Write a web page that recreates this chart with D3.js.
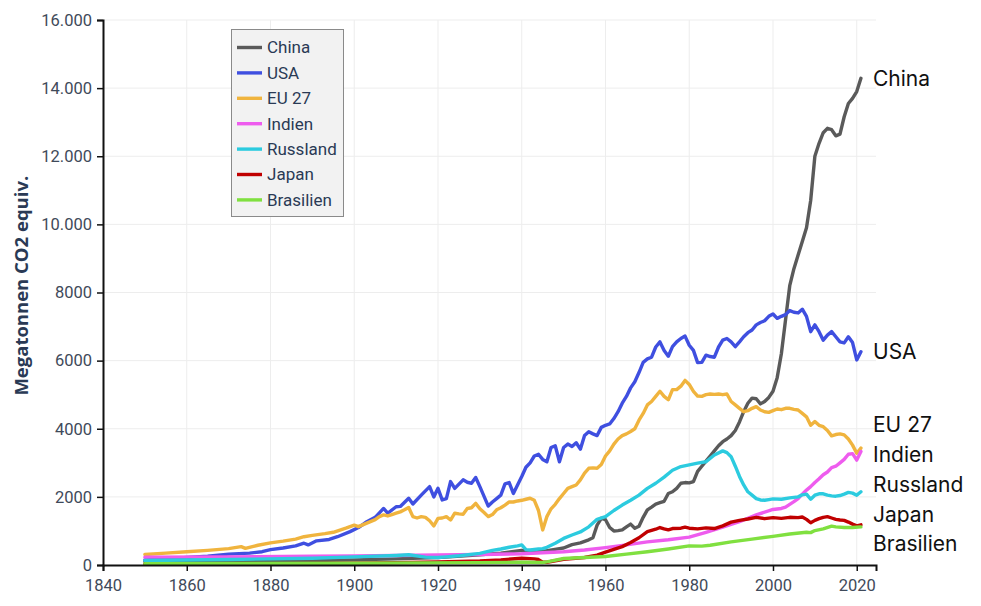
<!DOCTYPE html>
<html>
<head>
<meta charset="utf-8">
<script src="https://cdn.jsdelivr.net/npm/d3@7"></script>
<style>
  html, body { margin: 0; padding: 0; background: #fff; }
  svg { display: block; }
</style>
</head>
<body>
<svg id="chart" width="981" height="606"></svg>
<script>
// ---------- DATA (Megatonnen CO2 equiv., [Jahr, Wert]) ----------
const seriesNames = ["China", "USA", "EU 27", "Indien", "Russland", "Japan", "Brasilien"];
const seriesColors = ["#5a5a5a", "#3f4fe0", "#f0b43e", "#ee5cee", "#2ccbdf", "#c00000", "#80e040"];

const chinaData = [[1850,100],[1870,110],[1890,130],[1900,150],[1910,180],[1920,220],[1930,300],[1935,350],[1940,430],[1945,400],[1949,480],[1950,500],[1952,600],[1954,650],[1956,740],[1957,800],[1958,1170],[1959,1370],[1960,1330],[1961,1100],[1962,1000],[1963,1010],[1964,1030],[1965,1120],[1966,1200],[1967,1080],[1968,1140],[1969,1400],[1970,1620],[1971,1700],[1972,1790],[1973,1830],[1974,1870],[1975,2100],[1976,2150],[1977,2250],[1978,2400],[1979,2420],[1980,2410],[1981,2450],[1982,2750],[1983,2900],[1984,3050],[1985,3200],[1986,3350],[1987,3500],[1988,3620],[1989,3700],[1990,3800],[1991,3950],[1992,4200],[1993,4500],[1994,4750],[1995,4900],[1996,4880],[1997,4730],[1998,4800],[1999,4920],[2000,5100],[2001,5500],[2002,6200],[2003,7200],[2004,8200],[2005,8700],[2006,9100],[2007,9500],[2008,9900],[2009,10700],[2010,12000],[2011,12380],[2012,12690],[2013,12820],[2014,12780],[2015,12600],[2016,12650],[2017,13160],[2018,13550],[2019,13700],[2020,13900],[2021,14290]];

const usaData = [[1850,150],[1855,180],[1860,220],[1865,260],[1870,320],[1875,350],[1878,390],[1880,450],[1883,500],[1886,560],[1888,640],[1889,590],[1891,710],[1894,750],[1896,830],[1899,980],[1901,1100],[1903,1270],[1905,1400],[1907,1660],[1908,1520],[1910,1710],[1911,1720],[1913,1960],[1914,1790],[1916,2050],[1918,2300],[1919,2000],[1920,2250],[1921,1910],[1922,1950],[1923,2450],[1924,2250],[1926,2500],[1927,2430],[1928,2400],[1929,2570],[1930,2300],[1932,1730],[1933,1850],[1934,1950],[1935,2050],[1936,2380],[1937,2420],[1938,2100],[1939,2350],[1940,2600],[1941,2870],[1942,3000],[1943,3200],[1944,3250],[1945,3100],[1946,3030],[1947,3450],[1948,3500],[1949,3030],[1950,3450],[1951,3550],[1952,3480],[1953,3590],[1954,3400],[1955,3800],[1956,3910],[1957,3850],[1958,3800],[1959,4040],[1960,4100],[1961,4140],[1962,4300],[1963,4500],[1964,4750],[1965,4950],[1966,5200],[1967,5380],[1968,5650],[1969,5950],[1970,6050],[1971,6100],[1972,6400],[1973,6550],[1974,6300],[1975,6130],[1976,6410],[1977,6550],[1978,6650],[1979,6720],[1980,6450],[1981,6300],[1982,5940],[1983,5950],[1984,6160],[1985,6120],[1986,6100],[1987,6400],[1988,6600],[1989,6650],[1990,6550],[1991,6410],[1992,6550],[1993,6700],[1994,6820],[1995,6900],[1996,7050],[1997,7120],[1998,7170],[1999,7300],[2000,7370],[2001,7240],[2002,7300],[2003,7350],[2004,7470],[2005,7420],[2006,7400],[2007,7510],[2008,7300],[2009,6850],[2010,7050],[2011,6850],[2012,6600],[2013,6750],[2014,6850],[2015,6700],[2016,6550],[2017,6520],[2018,6700],[2019,6530],[2020,6020],[2021,6260]];

const euData = [[1850,310],[1855,350],[1860,390],[1865,430],[1870,480],[1873,540],[1874,490],[1877,580],[1880,650],[1883,700],[1886,760],[1888,830],[1890,870],[1893,920],[1895,960],[1898,1080],[1900,1170],[1901,1125],[1903,1230],[1905,1330],[1906,1420],[1907,1470],[1908,1440],[1909,1480],[1910,1520],[1911,1560],[1912,1620],[1913,1690],[1914,1420],[1915,1380],[1916,1420],[1917,1400],[1918,1300],[1919,1150],[1920,1370],[1921,1380],[1922,1420],[1923,1320],[1924,1520],[1925,1500],[1926,1490],[1927,1660],[1928,1680],[1929,1810],[1930,1650],[1931,1540],[1932,1420],[1933,1480],[1934,1620],[1935,1680],[1936,1760],[1937,1850],[1938,1850],[1939,1880],[1940,1900],[1941,1930],[1942,1960],[1943,1900],[1944,1600],[1945,1030],[1946,1420],[1947,1650],[1948,1780],[1949,1950],[1950,2100],[1951,2250],[1952,2300],[1953,2350],[1954,2500],[1955,2700],[1956,2840],[1957,2850],[1958,2840],[1959,2950],[1960,3200],[1961,3350],[1962,3550],[1963,3700],[1964,3800],[1965,3850],[1966,3920],[1967,4000],[1968,4250],[1969,4450],[1970,4700],[1971,4800],[1972,4950],[1973,5100],[1974,4950],[1975,4850],[1976,5150],[1977,5150],[1978,5250],[1979,5420],[1980,5300],[1981,5100],[1982,4960],[1983,4950],[1984,5000],[1985,5020],[1986,5010],[1987,5020],[1988,5000],[1989,5020],[1990,4800],[1991,4700],[1992,4600],[1993,4500],[1994,4530],[1995,4600],[1996,4650],[1997,4550],[1998,4500],[1999,4480],[2000,4530],[2001,4580],[2002,4560],[2003,4600],[2004,4600],[2005,4570],[2006,4550],[2007,4450],[2008,4350],[2009,4100],[2010,4210],[2011,4100],[2012,4060],[2013,3950],[2014,3790],[2015,3830],[2016,3850],[2017,3820],[2018,3700],[2019,3520],[2020,3280],[2021,3430]];

const indienData = [[1850,230],[1870,240],[1890,255],[1900,265],[1910,280],[1920,295],[1930,310],[1940,330],[1950,390],[1955,440],[1960,510],[1965,590],[1970,680],[1975,740],[1980,820],[1984,960],[1988,1110],[1992,1270],[1996,1470],[2000,1630],[2002,1660],[2003,1700],[2004,1780],[2005,1860],[2006,1950],[2007,2080],[2008,2200],[2009,2300],[2010,2420],[2011,2530],[2012,2650],[2013,2730],[2014,2860],[2015,2900],[2016,3000],[2017,3100],[2018,3250],[2019,3270],[2020,3080],[2021,3330]];

const russlandData = [[1850,130],[1870,160],[1890,200],[1900,240],[1910,280],[1913,300],[1917,230],[1920,220],[1922,240],[1925,270],[1930,340],[1933,430],[1935,470],[1937,520],[1939,560],[1940,590],[1941,450],[1942,440],[1944,470],[1945,480],[1946,520],[1948,640],[1950,780],[1952,880],[1954,970],[1956,1120],[1958,1340],[1960,1420],[1962,1600],[1964,1760],[1966,1900],[1968,2050],[1970,2250],[1972,2400],[1974,2580],[1976,2780],[1978,2890],[1980,2940],[1982,2990],[1984,3030],[1986,3230],[1988,3350],[1989,3300],[1990,3180],[1991,2900],[1992,2600],[1993,2350],[1994,2150],[1995,2050],[1996,1950],[1997,1910],[1998,1900],[1999,1920],[2000,1940],[2002,1930],[2004,1970],[2006,2000],[2007,2060],[2008,2080],[2009,1930],[2010,2050],[2011,2090],[2012,2090],[2013,2050],[2014,2030],[2015,2020],[2016,2040],[2017,2080],[2018,2130],[2019,2110],[2020,2050],[2021,2150]];

const japanData = [[1850,30],[1880,35],[1900,50],[1910,70],[1920,90],[1930,120],[1935,150],[1940,200],[1943,180],[1944,160],[1945,80],[1946,80],[1950,170],[1955,220],[1958,290],[1960,380],[1962,460],[1964,540],[1966,660],[1968,800],[1970,980],[1972,1050],[1973,1100],[1974,1060],[1975,1030],[1976,1070],[1978,1080],[1979,1110],[1980,1080],[1982,1060],[1984,1090],[1986,1070],[1988,1150],[1990,1260],[1992,1310],[1994,1350],[1996,1400],[1998,1360],[2000,1390],[2002,1370],[2004,1400],[2006,1390],[2007,1410],[2008,1340],[2009,1240],[2010,1310],[2011,1360],[2012,1400],[2013,1420],[2014,1380],[2015,1340],[2016,1320],[2017,1310],[2018,1260],[2019,1200],[2020,1150],[2021,1180]];

const brasilienData = [[1850,40],[1900,50],[1930,70],[1940,80],[1945,75],[1946,90],[1950,190],[1955,220],[1960,250],[1965,320],[1970,390],[1975,470],[1980,560],[1983,555],[1985,580],[1990,680],[1995,760],[2000,840],[2004,910],[2008,960],[2009,950],[2010,1010],[2012,1060],[2014,1140],[2015,1120],[2017,1100],[2019,1100],[2021,1120]];

const xTicks = [1840, 1860, 1880, 1900, 1920, 1940, 1960, 1980, 2000, 2020];
const yTicks = [0, 2000, 4000, 6000, 8000, 10000, 12000, 14000, 16000];
const yTitle = "Megatonnen CO2 equiv.";

const allData = [chinaData, usaData, euData, indienData, russlandData, japanData, brasilienData];
const series = seriesNames.map((n, i) => ({ name: n, color: seriesColors[i], values: allData[i] }));

// ---------- CHART ----------
const svg = d3.select("#chart");
const x = d3.scaleLinear().domain([1840, 2024.6]).range([103, 876]);
const y = d3.scaleLinear().domain([0, 16000]).range([565, 20]);

const tickFont = "Roboto, 'Liberation Sans', sans-serif";
const tickColor = "#3f4a5a";

// grid
svg.append("g").selectAll("line").data(xTicks.filter(t => t > 1840)).join("line")
  .attr("x1", d => x(d)).attr("x2", d => x(d))
  .attr("y1", y(0)).attr("y2", y(16000))
  .attr("stroke", "#ededed").attr("stroke-width", 1);
svg.append("g").selectAll("line").data(yTicks.filter(t => t > 0)).join("line")
  .attr("x1", x(1840)).attr("x2", x(2024.6))
  .attr("y1", d => y(d)).attr("y2", d => y(d))
  .attr("stroke", "#ededed").attr("stroke-width", 1);

// lines
const line = d3.line().x(d => x(d[0])).y(d => y(d[1])).curve(d3.curveLinear);
svg.append("g").selectAll("path").data(series).join("path")
  .attr("d", d => line(d.values))
  .attr("fill", "none")
  .attr("stroke", d => d.color)
  .attr("stroke-width", 3.4)
  .attr("stroke-linejoin", "round")
  .attr("stroke-linecap", "round");

// axes
const fmt = d => d >= 10000 ? d3.format(",")(d).replace(/,/g, ".") : String(d);
const xAxis = svg.append("g").attr("transform", `translate(0,${y(0)})`)
  .call(d3.axisBottom(x).tickValues(xTicks).tickFormat(d3.format("d")).tickSize(6).tickPadding(8));
const yAxis = svg.append("g").attr("transform", `translate(${x(1840)},0)`)
  .call(d3.axisLeft(y).tickValues(yTicks).tickFormat(fmt).tickSize(6).tickPadding(5));
[xAxis, yAxis].forEach(g => {
  g.select(".domain").attr("stroke", "#111").attr("stroke-width", 2);
  g.selectAll(".tick line").attr("stroke", "#111").attr("stroke-width", 1.5);
  g.selectAll(".tick text").attr("fill", tickColor).style("font-family", tickFont).style("font-size", "16.5px");
});

// y title
svg.append("text")
  .attr("transform", `translate(28,${y(8200)}) rotate(-90)`)
  .attr("text-anchor", "middle")
  .style("font-family", "'Open Sans', sans-serif")
  .style("font-weight", "700")
  .style("font-size", "18.5px")
  .attr("fill", "#2a3a55")
  .text(yTitle);

// legend
const lg = svg.append("g");
lg.append("rect").attr("x", 231.5).attr("y", 29.5).attr("width", 112).attr("height", 187)
  .attr("fill", "#f2f2f2").attr("stroke", "#8a8a8a").attr("stroke-width", 1);
const items = lg.selectAll("g.item").data(series).join("g")
  .attr("transform", (d, i) => `translate(0,${47.5 + i * 25.4})`);
items.append("line").attr("x1", 237).attr("x2", 262).attr("y1", 0).attr("y2", 0)
  .attr("stroke", d => d.color).attr("stroke-width", 3.4);
items.append("text").attr("x", 267).attr("y", 0).attr("dy", "0.35em")
  .style("font-family", tickFont).style("font-size", "17px").attr("fill", "#2a3a55")
  .text(d => d.name);

// end labels with simple collision avoidance
const spacing = 29.8, maxY = 544;
const labels = series.map(s => ({ name: s.name, y: y(s.values[s.values.length - 1][1]) }))
  .sort((a, b) => a.y - b.y);
for (let i = 1; i < labels.length; i++) labels[i].y = Math.max(labels[i].y, labels[i - 1].y + spacing);
labels[labels.length - 1].y = Math.min(labels[labels.length - 1].y, maxY);
for (let i = labels.length - 2; i >= 0; i--) labels[i].y = Math.min(labels[i].y, labels[i + 1].y - spacing);
svg.append("g").selectAll("text").data(labels).join("text")
  .attr("x", 873).attr("y", d => d.y).attr("dy", "0.35em")
  .style("font-family", "Inter, Roboto, sans-serif").style("font-size", "21px")
  .attr("fill", "#111")
  .text(d => d.name);
</script>
</body>
</html>
